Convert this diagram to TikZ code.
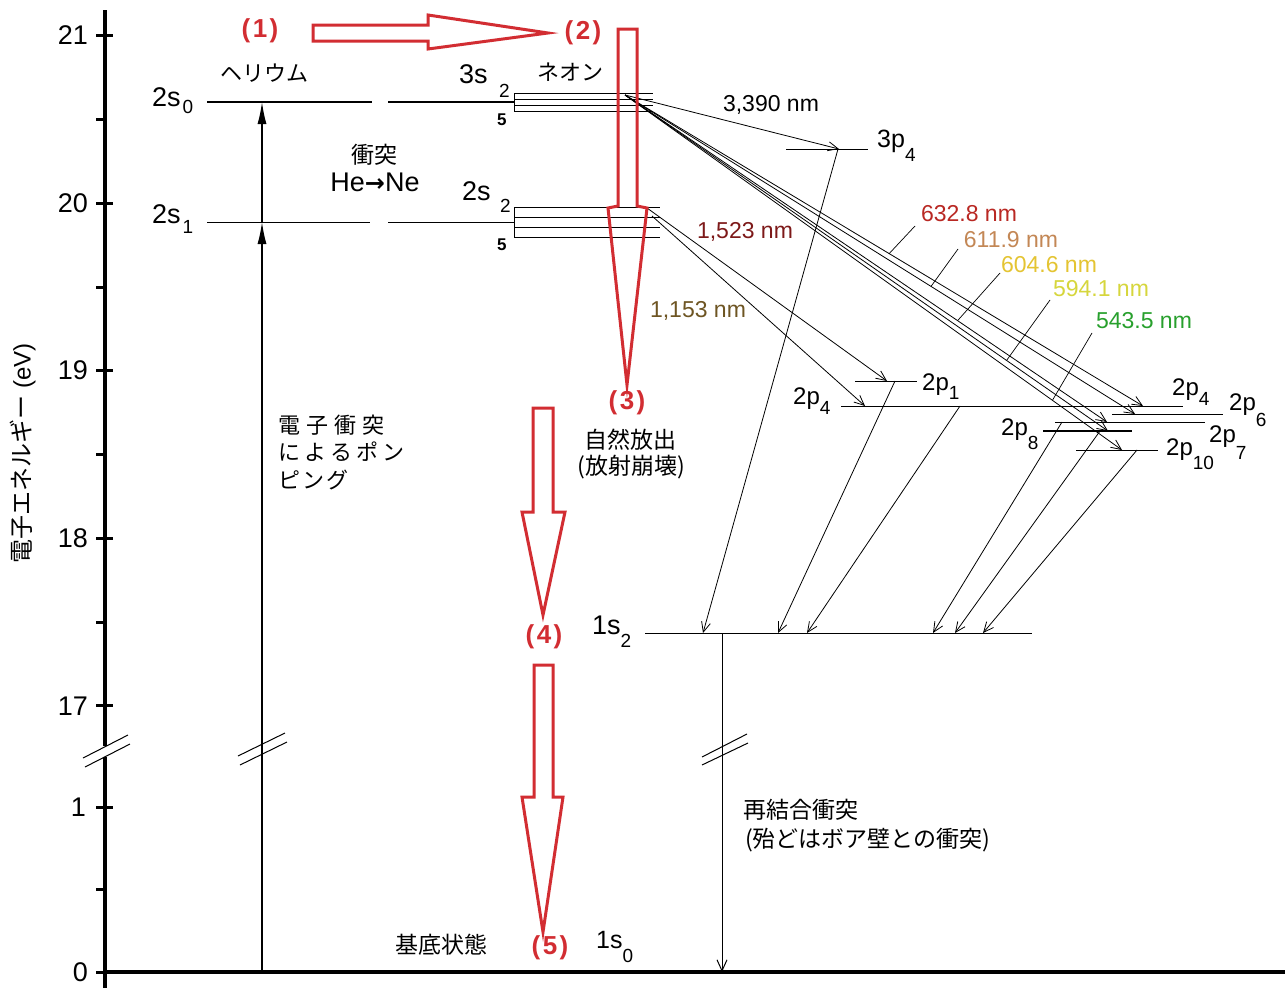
\documentclass[tikz,border=0pt]{standalone}
\usepackage{fontspec}
\setmainfont{Liberation Sans}
\newfontfamily\jpfont{Noto Sans CJK JP}
\newfontfamily\djfont{DejaVu Sans}
\usetikzlibrary{arrows.meta,calc}
\definecolor{redarr}{RGB}{210,45,50}
\definecolor{wlA}{RGB}{185,40,35}
\definecolor{wlB}{RGB}{195,135,85}
\definecolor{wlC}{RGB}{228,196,50}
\definecolor{wlD}{RGB}{214,214,60}
\definecolor{wlE}{RGB}{40,160,45}
\definecolor{wlF}{RGB}{125,25,25}
\definecolor{wlG}{RGB}{110,85,35}
\newcommand\lsub[2][10pt]{\raisebox{-#1}{\fontsize{19}{19}\selectfont #2}}
\begin{document}
\begin{tikzpicture}[x=1pt,y=-1pt,
  lvl/.style={line width=1pt},
  lvlthick/.style={line width=1.8pt},
  trans/.style={line width=0.8pt,-{Straight Barb[length=10pt,width=9pt]}},
  leader/.style={line width=0.7pt},
  axnum/.style={anchor=east,font=\fontsize{27}{30}\selectfont,inner sep=0pt},
  slbl/.style={anchor=base west,inner sep=0pt,font=\fontsize{27}{29}\selectfont},
  plbl/.style={anchor=base west,inner sep=0pt,font=\fontsize{24}{26}\selectfont},
  wl/.style={inner sep=0pt,font=\fontsize{23}{25}\selectfont},
  jp/.style={inner sep=0pt,font=\jpfont\fontsize{23}{25}\selectfont},
  stepnum/.style={inner sep=0pt,text=redarr,font=\bfseries\fontsize{26}{28}\selectfont},
  hollow/.style={draw=redarr,line width=3pt,line join=miter},
  brk/.style={line width=1pt},
]
\useasboundingbox (0,0) rectangle (1285,988);
\fill[white] (0,0) rectangle (1285,988);

% ---------- axis ----------
\coordinate (axtop) at (105,10);
\coordinate (axbrkA) at (105,746);
\coordinate (axbrkB) at (105,757);
\coordinate (axbot) at (105,988);
\coordinate (xaxL) at (103,972);
\coordinate (xaxR) at (1285,972);
\draw[line width=3.5pt] (axtop) -- (axbrkA);
\draw[line width=3.5pt] (axbrkB) -- (axbot);
\draw[line width=3.5pt] (xaxL) -- (xaxR);
\draw[brk] (83,758) -- (128,735);
\draw[brk] (85,767) -- (130,744);
\foreach \y in {35,203,370,538,705,807} \draw[line width=3pt] (96,\y) -- (113,\y);
\foreach \y in {119,287,454,622,889,972} \draw[line width=3pt] (96,\y) -- (105,\y);
\node[axnum] (n21) at (88,35) {21};
\node[axnum] (n20) at (88,203) {20};
\node[axnum] (n19) at (88,370) {19};
\node[axnum] (n18) at (88,538) {18};
\node[axnum] (n17) at (88,706) {17};
\node[axnum] (n1) at (86,807) {1};
\node[axnum] (n0) at (88,972) {0};
\node[rotate=90,inner sep=0pt] (ylab) at (23,453)
  {{\jpfont\fontsize{24}{26}\selectfont 電子エネルギー}\fontsize{24}{26}\selectfont\ (eV)};

% ---------- helium ----------
\coordinate (heBase) at (262,972);
\coordinate (he1) at (262,222);
\coordinate (he0) at (262,102);
\draw[line width=1.4pt,-{Latex[length=22pt,width=9pt]}] (heBase) -- (he1);
\draw[line width=1.4pt,-{Latex[length=22pt,width=9pt]}] (he1) -- (he0);
\draw[brk] (238,756) -- (285,733);
\draw[brk] (240,765) -- (287,742);
\draw[lvlthick] (207,102) -- (372,102);
\draw[lvlthick] (388,102) -- (514,102);
\draw[lvl] (207,222) -- (370,222);
\draw[lvl] (388,222) -- (514,222);
\node[slbl] (l2s0) at (152,106) {2s\kern2pt\lsub[7pt]{0}};
\node[slbl] (l2s1) at (152,223) {2s\kern2pt\lsub[10pt]{1}};
\node[jp,font=\jpfont\fontsize{22}{24}\selectfont] (helium) at (264,73) {ヘリウム};
\node[jp] (coll) at (374,155) {衝突};
\node[inner sep=0pt,font=\fontsize{27}{29}\selectfont] (hene) at (375,182) {He{\djfont\bfseries\fontsize{24}{26}\selectfont →}Ne};
\node[jp,anchor=west,font=\jpfont\fontsize{22}{24}\selectfont] (pumpA) at (278,425) {電\hspace{6pt}子\hspace{6pt}衝\hspace{6pt}突};
\node[jp,anchor=west,font=\jpfont\fontsize{22}{24}\selectfont] (pumpB) at (278,452) {に\hspace{4pt}よ\hspace{4pt}る\hspace{4pt}ポ\hspace{4pt}ン};
\node[jp,anchor=west,font=\jpfont\fontsize{22}{24}\selectfont] (pumpC) at (278,480) {ピ\hspace{2pt}ン\hspace{2pt}グ};

% ---------- neon s levels ----------
\foreach \y in {93,99,105,111} \draw[lvl] (514,\y) -- (653,\y);
\draw[lvl] (514,93) -- (514,111);
\foreach \y in {207,217,227,237} \draw[lvl] (514,\y) -- (660,\y);
\draw[lvl] (514,207) -- (514,237);
\node[slbl] (l3s) at (459,83) {3s};
\node[anchor=base west,inner sep=0pt,font=\fontsize{19}{19}\selectfont] (l3sa) at (499,97) {2};
\node[anchor=base west,inner sep=0pt,font=\bfseries\fontsize{17}{18}\selectfont] (l3sb) at (497,125) {5};
\node[slbl] (l2sn) at (462,200) {2s};
\node[anchor=base west,inner sep=0pt,font=\fontsize{19}{19}\selectfont] (l2sa) at (500,212) {2};
\node[anchor=base west,inner sep=0pt,font=\bfseries\fontsize{17}{18}\selectfont] (l2sb) at (497,250) {5};
\node[jp,font=\jpfont\fontsize{22}{24}\selectfont] (neon) at (570,72) {ネオン};

% ---------- p levels ----------
\draw[lvl] (786,149) -- (868,149);
\node[plbl,font=\fontsize{25}{27}\selectfont] (l3p4) at (877,147) {3p\lsub[14pt]{4}};
\draw[lvl] (855,381) -- (917,381);
\draw[lvl] (841,406) -- (1183,406);
\draw[lvl] (1112,414) -- (1223,414);
\draw[lvl] (1055,422) -- (1205,422);
\draw[lvlthick] (1043,431) -- (1132,431);
\draw[lvl] (1076,450) -- (1158,450);
\node[plbl] (l2p1) at (922,390) {2p\lsub[9pt]{1}};
\node[plbl] (l2p4a) at (793,404) {2p\lsub[10pt]{4}};
\node[plbl] (l2p4b) at (1172,395) {2p\lsub[10pt]{4}};
\node[plbl] (l2p6) at (1229,410) {2p\lsub[16pt]{6}};
\node[plbl] (l2p7) at (1209,442) {2p\lsub[17pt]{7}};
\node[plbl] (l2p8) at (1001,435) {2p\lsub[14pt]{8}};
\node[plbl] (l2p10) at (1166,455) {2p\lsub[14pt]{10}};

% ---------- 1s levels ----------
\draw[lvl] (645,633) -- (1032,633);
\node[slbl] (l1s2) at (592,634) {1s\lsub[13pt]{2}};
\node[slbl,font=\fontsize{25}{27}\selectfont] (l1s0) at (596,948) {1s\lsub[14pt]{0}};
\coordinate (r1) at (722,633);
\coordinate (r0) at (722,972);
\draw[line width=1pt,-{Straight Barb[length=11pt,width=10pt]}] (r1) -- (r0);
\draw[brk] (702,757) -- (747,734);
\draw[brk] (702,765) -- (748,743);
\node[jp,anchor=west] (recA) at (743,810) {再結合衝突};
\node[jp,anchor=west] (recB) at (745,840) {(殆どはボア壁との衝突)};

% ---------- transitions ----------
\coordinate (s3) at (625,95);
\coordinate (p3p4) at (839,149);
\coordinate (t2p4r) at (1143,406);
\coordinate (t2p6) at (1135,414);
\coordinate (t2p7) at (1107,422);
\coordinate (t2p8) at (1108,431);
\coordinate (t2p10) at (1122,450);
\draw[trans] (s3) -- (p3p4);
\draw[trans] (s3) -- (t2p4r);
\draw[trans] (s3) -- (t2p6);
\draw[trans] (s3) -- (t2p7);
\draw[trans] (s3) -- (t2p8);
\draw[trans] (s3) -- (t2p10);
\coordinate (s2a) at (647,208);
\coordinate (s2b) at (652,216);
\coordinate (t2p1) at (887,381);
\coordinate (t2p4l) at (865,406);
\draw[trans] (s2a) -- (t2p1);
\draw[trans] (s2b) -- (t2p4l);
% decays to 1s2
\coordinate (d3p4) at (838,149);
\coordinate (d2p1) at (895,381);
\coordinate (d2p4) at (960,406);
\coordinate (d2p7) at (1062,422);
\coordinate (d2p8) at (1100,431);
\coordinate (d2p10) at (1137,450);
\coordinate (e1) at (703,633);
\coordinate (e2) at (778,633);
\coordinate (e3) at (807,633);
\coordinate (e4) at (933,633);
\coordinate (e5) at (955,633);
\coordinate (e6) at (983,633);
\draw[trans] (d3p4) -- (e1);
\draw[trans] (d2p1) -- (e2);
\draw[trans] (d2p4) -- (e3);
\draw[trans] (d2p7) -- (e4);
\draw[trans] (d2p8) -- (e5);
\draw[trans] (d2p10) -- (e6);

% ---------- wavelength labels ----------
\node[wl] (w3390) at (771,105) {3,390 nm};
\node[wl,text=wlF] (w1523) at (745,232) {1,523 nm};
\node[wl,text=wlG] (w1153) at (698,311) {1,153 nm};
\node[wl,text=wlA] (w6328) at (969,214) {632.8 nm};
\node[wl,text=wlB] (w6119) at (1011,240) {611.9 nm};
\node[wl,text=wlC] (w6046) at (1049,265) {604.6 nm};
\node[wl,text=wlD] (w5941) at (1101,289) {594.1 nm};
\node[wl,text=wlE] (w5435) at (1144,321) {543.5 nm};
\draw[leader] ($(s3)!0.51!(t2p4r)$) -- (915,226);
\draw[leader] ($(s3)!0.60!(t2p6)$) -- (958,249);
\draw[leader] ($(s3)!0.69!(t2p7)$) -- (1000,273);
\draw[leader] ($(s3)!0.79!(t2p8)$) -- (1050,300);
\draw[leader] ($(s3)!0.86!(t2p10)$) -- (1092,333);

% ---------- red process arrows ----------
\draw[hollow] (313,25) -- (428,25) -- (428,15) -- (548,33) -- (428,49) -- (428,41) -- (313,41) -- cycle;
\draw[hollow] (618,29) -- (637,29) -- (637,206) -- (647,208) -- (627,385) -- (608,208) -- (618,206) -- cycle;
\draw[hollow] (533,408) -- (553,408) -- (553,512) -- (565,512) -- (543,615) -- (522,512) -- (533,512) -- cycle;
\draw[hollow] (534,665) -- (553,665) -- (553,797) -- (563,797) -- (543,932) -- (522,797) -- (534,797) -- cycle;
\node[stepnum] (st1) at (260,31) {(\kern2.5pt1\kern2.5pt)};
\node[stepnum] (st2) at (583,33) {(\kern2.5pt2\kern2.5pt)};
\node[stepnum] (st3) at (627,403) {(\kern2.5pt3\kern2.5pt)};
\node[stepnum] (st4) at (544,637) {(\kern2.5pt4\kern2.5pt)};
\node[stepnum] (st5) at (550,948) {(\kern2.5pt5\kern2.5pt)};
\node[jp] (spA) at (630,440) {自然放出};
\node[jp] (spB) at (631,467) {(放射崩壊)};
\node[jp] (ground) at (441,945) {基底状態};
\end{tikzpicture}
\end{document}
